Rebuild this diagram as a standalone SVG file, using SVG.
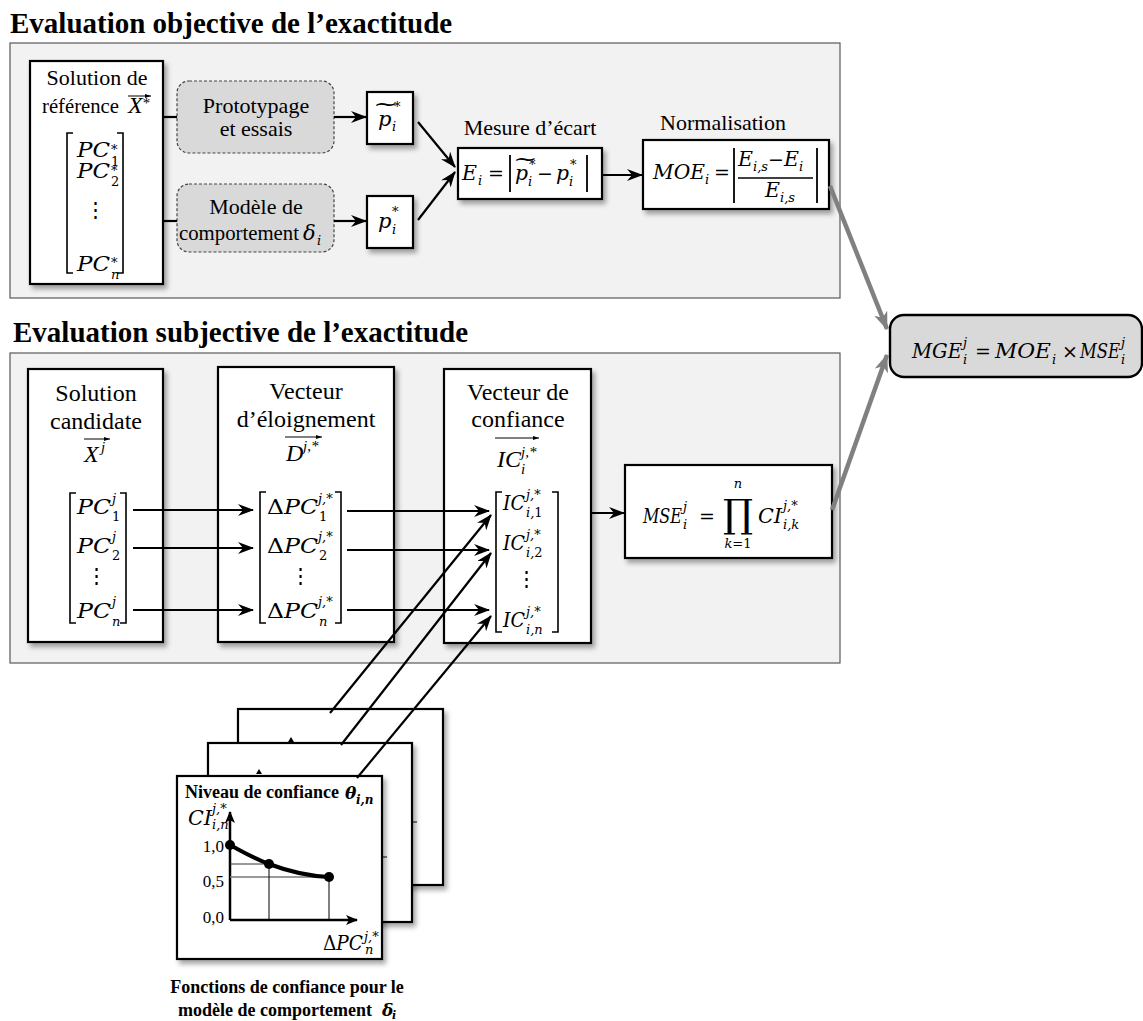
<svg xmlns="http://www.w3.org/2000/svg" width="1143" height="1021" viewBox="0 0 1143 1021">
<style>
.tt{font-family:"Liberation Serif",serif;font-weight:bold;font-size:29px;fill:#000}
.b{font-family:"Liberation Serif",serif;font-size:22px;fill:#000}
.b2{font-family:"Liberation Serif",serif;font-size:24px;fill:#000}
.c{text-anchor:middle}
.r{text-anchor:end}
.m{font-family:"DejaVu Serif",serif;font-style:italic;font-size:21px;fill:#000}
.ms{font-family:"DejaVu Serif",serif;font-style:italic;font-size:13px;fill:#000}
.mu{font-family:"DejaVu Serif",serif;font-size:21px;fill:#000}
.mus{font-family:"DejaVu Serif",serif;font-size:13px;fill:#000}
.op{font-family:"DejaVu Serif",serif;font-size:19px;fill:#000;text-anchor:middle}
.ti{font-family:"Liberation Serif",serif;font-style:italic;font-size:24px;fill:#000}
.tis{font-family:"Liberation Serif",serif;font-style:italic;font-size:15px;fill:#000}
.panel{fill:#f2f2f2;stroke:#595959;stroke-width:1.2}
.box{fill:#fff;stroke:#000;stroke-width:2.2;filter:url(#sh)}
.dash{fill:#d9d9d9;stroke:#444;stroke-width:1.2;stroke-dasharray:3 2}
.brk{fill:none;stroke:#000;stroke-width:1.6}
.bar{stroke:#000;stroke-width:1.8}
.ar{fill:none;stroke:#000;stroke-width:2.2;marker-end:url(#ah)}
.ln{fill:none;stroke:#000;stroke-width:2.2}
.gar{fill:none;stroke:#808080;stroke-width:4.5;marker-end:url(#gh)}
.va{fill:none;stroke:#000;stroke-width:1;marker-end:url(#vh)}
.cap{font-family:"Liberation Serif",serif;font-weight:bold;font-size:18px;fill:#000}
.sm{font-family:"Liberation Serif",serif;font-size:17px;fill:#000}
</style>
<defs>
<filter id="sh" x="-10%" y="-10%" width="130%" height="130%">
<feDropShadow dx="3" dy="4" stdDeviation="2.5" flood-color="#000" flood-opacity="0.35"/>
</filter>
<marker id="ah" viewBox="0 0 16 12" refX="15" refY="6" markerWidth="16" markerHeight="12" markerUnits="userSpaceOnUse" orient="auto">
<path d="M0,0 L16,6 L0,12 L5,6 z" fill="#000"/>
</marker>
<marker id="gh" viewBox="0 0 18 14" refX="17" refY="7" markerWidth="18" markerHeight="14" markerUnits="userSpaceOnUse" orient="auto">
<path d="M0,0 L18,7 L0,14 L5,7 z" fill="#808080"/>
</marker>
<marker id="vh" viewBox="0 0 6 4" refX="6" refY="2" markerWidth="6" markerHeight="4" markerUnits="userSpaceOnUse" orient="auto">
<path d="M0,0 L6,2 L0,4 z" fill="#000"/>
</marker>
<marker id="axh" viewBox="0 0 12 10" refX="11" refY="5" markerWidth="12" markerHeight="10" markerUnits="userSpaceOnUse" orient="auto">
<path d="M0,0 L12,5 L0,10 L3,5 z" fill="#000"/>
</marker>
</defs>
<rect width="1143" height="1021" fill="#fff"/>

<!-- TOP SECTION -->
<g id="panel-objective">
<text class="tt" x="10" y="33">Evaluation objective de l’exactitude</text>
<rect class="panel" x="10" y="43" width="830" height="255"/>
</g>

<g id="n-solution-reference">
<rect class="box" x="30" y="61" width="133" height="223"/>
<text class="b c" x="97" y="85">Solution de</text>
<text class="b" x="42" y="113" textLength="77" lengthAdjust="spacingAndGlyphs">référence</text>
<text class="ti" x="128" y="113">X</text>
<text class="tis" x="142" y="108">*</text>
<line class="va" x1="128" y1="96" x2="151" y2="96"/>
<path class="brk" d="M73,133 H67 V273 H73 M117,133 H123 V273 H117"/>
<text class="m" x="77" y="157" textLength="33" lengthAdjust="spacingAndGlyphs">PC</text><text class="ms" x="111" y="154">*</text><text class="mus" x="111" y="166">1</text>
<text class="m" x="77" y="178" textLength="33" lengthAdjust="spacingAndGlyphs">PC</text><text class="ms" x="111" y="175">*</text><text class="mus" x="111" y="186">2</text>
<text class="mu c" x="95" y="217">⋮</text>
<text class="m" x="77" y="271" textLength="33" lengthAdjust="spacingAndGlyphs">PC</text><text class="ms" x="111" y="267">*</text><text class="ms" x="111" y="279">n</text>
</g>

<g id="n-prototypage">
<rect class="dash" x="177" y="81" width="157" height="72" rx="12"/>
<text class="b c" x="256" y="113">Prototypage</text>
<text class="b c" x="256" y="136">et essais</text>
</g>

<g id="n-modele">
<rect class="dash" x="177" y="184" width="157" height="68" rx="12"/>
<text class="b c" x="256" y="214">Modèle de</text>
<text class="b" x="179" y="240" textLength="120" lengthAdjust="spacingAndGlyphs">comportement</text>
<text class="m" x="303" y="240">δ</text><text class="ms" x="317" y="245">i</text>
</g>

<g id="n-p-tilde">
<rect class="box" x="367" y="92" width="46" height="52"/>
<text class="m" x="378" y="126">p</text>
<text class="mu" x="0" y="0" font-size="15" transform="translate(373,111) scale(1.45,1)">~</text>
<text class="ms" x="394" y="111">*</text><text class="ms" x="392" y="131">i</text>
</g>

<g id="n-p">
<rect class="box" x="367" y="196" width="46" height="52"/>
<text class="m" x="378" y="228">p</text>
<text class="ms" x="392" y="216">*</text><text class="ms" x="392" y="234">i</text>
</g>

<g id="n-mesure">
<text class="b c" x="530" y="135">Mesure d’écart</text>
<rect class="box" x="458" y="148" width="144" height="51"/>
<text class="m" x="462" y="180" textLength="15" lengthAdjust="spacingAndGlyphs">E</text><text class="ms" x="478" y="185">i</text>
<text class="op" x="496" y="180">=</text>
<line class="bar" x1="510" y1="155" x2="510" y2="192"/>
<text class="m" x="515" y="180" textLength="13" lengthAdjust="spacingAndGlyphs">p</text>
<text class="mu" x="0" y="0" font-size="15" transform="translate(513,166) scale(1.4,1)">~</text>
<text class="ms" x="529" y="169">*</text><text class="ms" x="528" y="186">i</text>
<text class="op" x="545" y="180">−</text>
<text class="m" x="556" y="180" textLength="13" lengthAdjust="spacingAndGlyphs">p</text>
<text class="ms" x="570" y="169">*</text><text class="ms" x="569" y="186">i</text>
<line class="bar" x1="587" y1="155" x2="587" y2="192"/>
</g>

<g id="n-normalisation">
<text class="b c" x="723" y="130">Normalisation</text>
<rect class="box" x="643" y="140" width="186" height="69"/>
<text class="m" x="653" y="179" textLength="52" lengthAdjust="spacingAndGlyphs">MOE</text><text class="ms" x="705" y="184">i</text>
<text class="op" x="722" y="179">=</text>
<line class="bar" x1="734" y1="148" x2="734" y2="203"/>
<text class="m" x="738" y="166" textLength="15" lengthAdjust="spacingAndGlyphs">E</text><text class="ms" x="753" y="171">i,s</text>
<text class="op" x="776" y="166">−</text>
<text class="m" x="784" y="166" textLength="15" lengthAdjust="spacingAndGlyphs">E</text><text class="ms" x="799" y="171">i</text>
<line x1="738" y1="178" x2="813" y2="178" stroke="#000" stroke-width="1.3"/>
<text class="m" x="765" y="197" textLength="15" lengthAdjust="spacingAndGlyphs">E</text><text class="ms" x="780" y="202">i,s</text>
<line class="bar" x1="817" y1="148" x2="817" y2="203"/>
</g>

<g id="n-mge">
<rect x="890" y="315" width="252" height="62" rx="14" fill="#d9d9d9" stroke="#000" stroke-width="2.4"/>
<text class="m" x="912" y="358" textLength="50" lengthAdjust="spacingAndGlyphs">MGE</text><text class="ms" x="963" y="347">j</text><text class="ms" x="963" y="364">i</text>
<text class="op" x="983" y="358">=</text>
<text class="m" x="995" y="358" textLength="56" lengthAdjust="spacingAndGlyphs">MOE</text><text class="ms" x="1052" y="364">i</text>
<text class="op" x="1070" y="358">×</text>
<text class="m" x="1080" y="358" textLength="40" lengthAdjust="spacingAndGlyphs">MSE</text><text class="ms" x="1121" y="347">j</text><text class="ms" x="1121" y="364">i</text>
</g>

<!-- BOTTOM SECTION -->
<g id="panel-subjective">
<text class="tt" x="13" y="342">Evaluation subjective de l’exactitude</text>
<rect class="panel" x="10" y="353" width="830" height="310"/>
</g>

<g id="n-solution-candidate">
<rect class="box" x="28" y="369" width="135" height="273"/>
<text class="b2 c" x="96" y="401">Solution</text>
<text class="b2 c" x="96" y="429">candidate</text>
<text class="ti" x="84" y="462">X</text><text class="tis" x="101" y="452">j</text>
<line class="va" x1="84" y1="439" x2="110" y2="439"/>
<path class="brk" d="M76,493 H70 V623 H76 M120,493 H126 V623 H120"/>
<text class="m" x="77" y="514" textLength="34" lengthAdjust="spacingAndGlyphs">PC</text><text class="ms" x="112" y="503">j</text><text class="mus" x="112" y="521">1</text>
<text class="m" x="77" y="553" textLength="34" lengthAdjust="spacingAndGlyphs">PC</text><text class="ms" x="112" y="541">j</text><text class="mus" x="112" y="560">2</text>
<text class="mu c" x="96" y="583">⋮</text>
<text class="m" x="77" y="618" textLength="34" lengthAdjust="spacingAndGlyphs">PC</text><text class="ms" x="112" y="606">j</text><text class="ms" x="112" y="626">n</text>
</g>

<g id="n-vecteur-eloignement">
<rect class="box" x="218" y="367" width="176" height="275"/>
<text class="b2 c" x="306" y="399">Vecteur</text>
<text class="b2 c" x="306" y="427">d’éloignement</text>
<text class="ti" x="286" y="461">D</text><text class="tis" x="303" y="451">j,*</text>
<line class="va" x1="285" y1="437" x2="322" y2="437"/>
<path class="brk" d="M266,492 H260 V623 H266 M335,492 H341 V623 H335"/>
<text class="m" x="267" y="514" textLength="51" lengthAdjust="spacingAndGlyphs"><tspan font-style="normal">Δ</tspan>PC</text><text class="ms" x="318" y="503">j,*</text><text class="mus" x="319" y="521">1</text>
<text class="m" x="267" y="553" textLength="51" lengthAdjust="spacingAndGlyphs"><tspan font-style="normal">Δ</tspan>PC</text><text class="ms" x="318" y="541">j,*</text><text class="mus" x="319" y="560">2</text>
<text class="mu c" x="300" y="583">⋮</text>
<text class="m" x="267" y="618" textLength="51" lengthAdjust="spacingAndGlyphs"><tspan font-style="normal">Δ</tspan>PC</text><text class="ms" x="318" y="606">j,*</text><text class="ms" x="319" y="626">n</text>
</g>

<g id="n-vecteur-confiance">
<rect class="box" x="444" y="369" width="147" height="274"/>
<text class="b2 c" x="518" y="400">Vecteur de</text>
<text class="b2 c" x="518" y="427">confiance</text>
<text class="ti" x="497" y="467">IC</text><text class="tis" x="521" y="457">j,*</text><text class="tis" x="521" y="474">i</text>
<line class="va" x1="495" y1="438" x2="539" y2="438"/>
<path class="brk" d="M502,492 H496 V632 H502 M552,492 H558 V632 H552"/>
<text class="m" x="503" y="510" textLength="22" lengthAdjust="spacingAndGlyphs">IC</text><text class="ms" x="526" y="499">j,*</text><text class="ms" x="526" y="517">i,<tspan font-style="normal">1</tspan></text>
<text class="m" x="503" y="550" textLength="22" lengthAdjust="spacingAndGlyphs">IC</text><text class="ms" x="526" y="539">j,*</text><text class="ms" x="526" y="557">i,<tspan font-style="normal">2</tspan></text>
<text class="mu c" x="526" y="586">⋮</text>
<text class="m" x="503" y="627" textLength="22" lengthAdjust="spacingAndGlyphs">IC</text><text class="ms" x="526" y="616">j,*</text><text class="ms" x="526" y="634">i,n</text>
</g>

<g id="n-mse">
<rect class="box" x="625" y="465" width="207" height="93"/>
<text class="m" x="643" y="523" textLength="39" lengthAdjust="spacingAndGlyphs">MSE</text><text class="ms" x="683" y="511">j</text><text class="ms" x="683" y="529">i</text>
<text class="op" x="707" y="523">=</text>
<text class="mu" x="0" y="0" font-size="52" textLength="30" lengthAdjust="spacingAndGlyphs" transform="translate(723,527) scale(1,1.85)">∏</text>
<text class="ms" x="738" y="488" text-anchor="middle">n</text>
<text class="ms" x="738" y="548" text-anchor="middle" font-size="12">k<tspan font-style="normal">=1</tspan></text>
<text class="m" x="758" y="523" textLength="24" lengthAdjust="spacingAndGlyphs">CI</text><text class="ms" x="783" y="510">j,*</text><text class="ms" x="783" y="529">i,k</text>
</g>

<!-- confidence function pages -->
<g id="n-pages">
<rect class="box" x="238" y="709" width="205" height="176"/>
<path d="M291,737 L288,742 L294,742 z" fill="#000"/>
<line x1="413" y1="822" x2="417" y2="822" stroke="#000" stroke-width="1"/>
<rect class="box" x="208" y="743" width="204" height="179"/>
<path d="M259,769 L256,774 L262,774 z" fill="#000"/>
<line x1="383" y1="857" x2="387" y2="857" stroke="#000" stroke-width="1"/>
<rect class="box" x="177" y="776" width="205" height="183"/>
<text class="cap" x="185" y="798">Niveau de confiance</text>
<text x="345" y="799" font-family="DejaVu Serif,serif" font-weight="bold" font-style="italic" font-size="17">θ</text>
<text x="356" y="804" font-family="DejaVu Serif,serif" font-weight="bold" font-style="italic" font-size="12">i,n</text>
<text class="m" x="188" y="825" font-size="17" textLength="24" lengthAdjust="spacingAndGlyphs">CI</text>
<text class="ms" x="212" y="813" font-size="11">j,*</text>
<text class="ms" x="212" y="829" font-size="11">i,n</text>
<line x1="230" y1="920" x2="230" y2="812" stroke="#000" stroke-width="2.5" marker-end="url(#axh)"/>
<line x1="230" y1="920" x2="357" y2="920" stroke="#000" stroke-width="2.5" marker-end="url(#axh)"/>
<text class="sm r" x="224" y="852">1,0</text>
<text class="sm r" x="224" y="887">0,5</text>
<text class="sm r" x="224" y="923">0,0</text>
<line x1="230" y1="864" x2="269" y2="864" stroke="#333" stroke-width="1"/>
<line x1="230" y1="877" x2="329" y2="877" stroke="#777" stroke-width="1.3"/>
<line x1="269" y1="864" x2="269" y2="920" stroke="#000" stroke-width="1"/>
<line x1="329" y1="877" x2="329" y2="920" stroke="#000" stroke-width="1"/>
<path d="M230,845 C245,853 255,859 269,864 C290,872 308,876 329,877" fill="none" stroke="#000" stroke-width="4"/>
<circle cx="230" cy="845" r="5" fill="#000"/>
<circle cx="269" cy="864" r="5" fill="#000"/>
<circle cx="329" cy="877" r="5" fill="#000"/>
<text class="m" x="323" y="950" font-size="18" textLength="40" lengthAdjust="spacingAndGlyphs"><tspan font-style="normal">Δ</tspan>PC</text>
<text class="ms" x="364" y="941" font-size="12">j,*</text><text class="ms" x="365" y="954" font-size="12">n</text>
</g>

<g id="caption">
<text class="cap" x="287" y="993" text-anchor="middle">Fonctions de confiance pour le</text>
<text class="cap" x="178" y="1016">modèle de comportement</text>
<text x="382" y="1016" font-family="DejaVu Serif,serif" font-weight="bold" font-style="italic" font-size="17">δ</text>
<text x="392" y="1019" font-family="DejaVu Serif,serif" font-weight="bold" font-style="italic" font-size="11">i</text>
</g>

<!-- CONNECTORS -->
<g id="connectors">
<line class="ln" x1="163" y1="117" x2="177" y2="117"/>
<line class="ln" x1="163" y1="221" x2="177" y2="221"/>
<line class="ar" x1="334" y1="117" x2="366" y2="117"/>
<line class="ar" x1="334" y1="221" x2="366" y2="221"/>
<line class="ar" x1="418" y1="122" x2="455" y2="167"/>
<line class="ar" x1="418" y1="220" x2="455" y2="172"/>
<line class="ar" x1="602" y1="175" x2="642" y2="175"/>
<line class="gar" x1="830" y1="186" x2="887" y2="329"/>
<line class="gar" x1="832" y1="510" x2="887" y2="355"/>
<line class="ar" x1="133" y1="510" x2="253" y2="510"/>
<line class="ar" x1="133" y1="548" x2="253" y2="548"/>
<line class="ar" x1="133" y1="610" x2="253" y2="610"/>
<line class="ar" x1="347" y1="511" x2="489" y2="511"/>
<line class="ar" x1="347" y1="550" x2="489" y2="550"/>
<line class="ar" x1="347" y1="610" x2="489" y2="610"/>
<line class="ar" x1="591" y1="513" x2="624" y2="513"/>
<line class="ar" x1="330" y1="713" x2="491" y2="515"/>
<line class="ar" x1="341" y1="745" x2="491" y2="553"/>
<line class="ar" x1="357" y1="778" x2="491" y2="616"/>
</g>
</svg>
